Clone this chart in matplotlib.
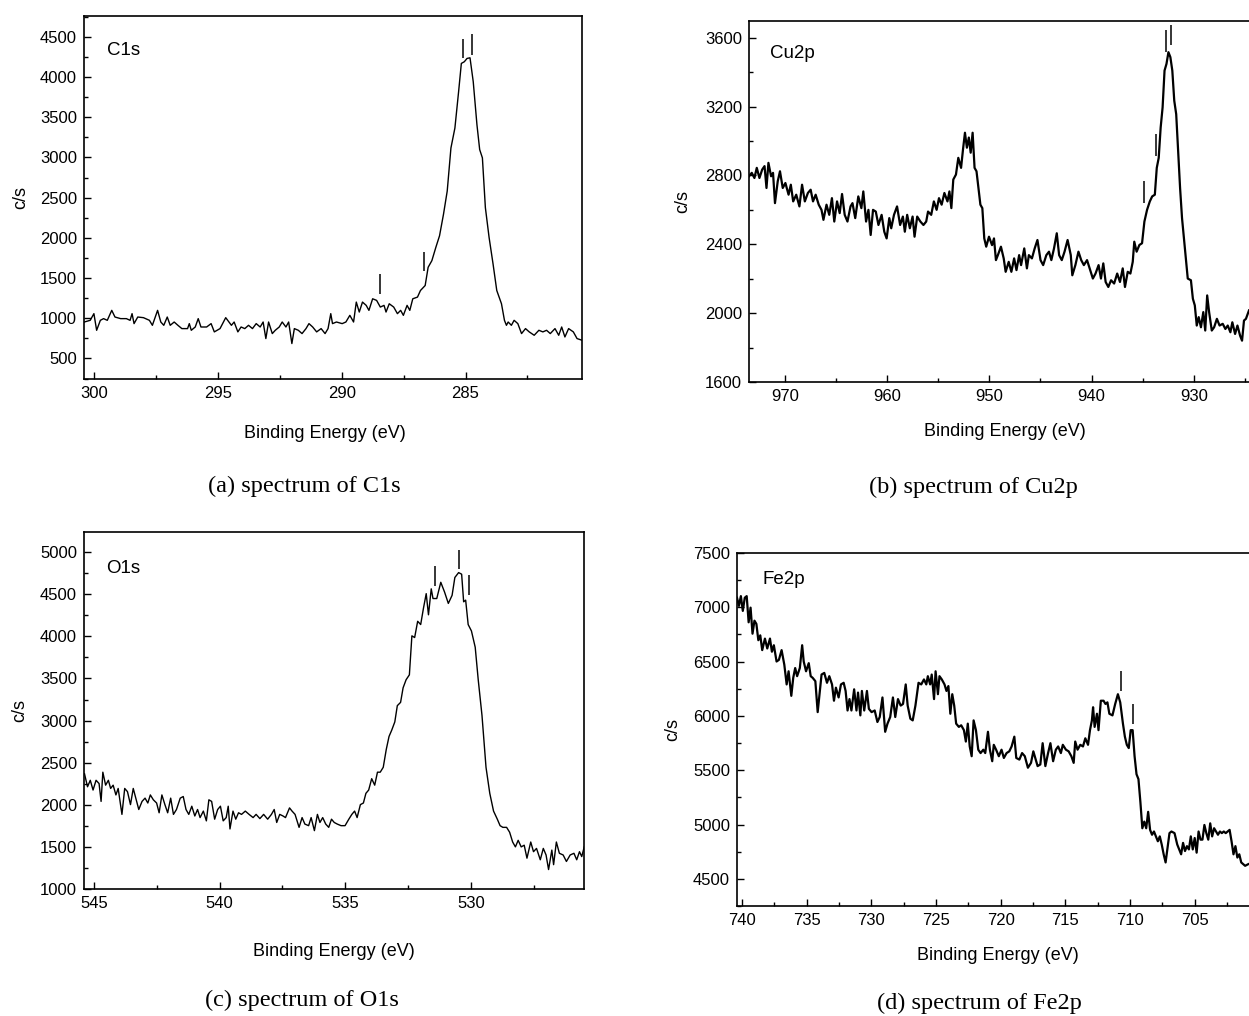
import numpy as np
import matplotlib
matplotlib.use("Agg")
import matplotlib.pyplot as plt
from matplotlib.ticker import MultipleLocator

plt.rcParams['font.family'] = ['Liberation Sans', 'DejaVu Sans']

# ---- C1s ----
c1s_e = [300.39, 300.15, 300.00, 299.89, 299.74, 299.61, 299.46, 299.28, 299.15, 298.92,
         298.69, 298.54, 298.46, 298.38, 298.23, 298.00, 297.76, 297.64, 297.43, 297.30,
         297.18, 297.04, 296.92, 296.76, 296.61, 296.45, 296.22, 296.15, 296.07, 295.91,
         295.79, 295.68, 295.45, 295.27, 295.14, 294.91, 294.68, 294.45, 294.34, 294.19,
         294.06, 293.91, 293.76, 293.60, 293.45, 293.29, 293.17, 293.06, 292.95, 292.80,
         292.68, 292.52, 292.40, 292.25, 292.14, 292.01, 291.91, 291.75, 291.60, 291.44,
         291.32, 291.17, 291.01, 290.83, 290.67, 290.55, 290.44, 290.37, 290.21, 289.98,
         289.83, 289.67, 289.52, 289.41, 289.29, 289.16, 289.01, 288.90, 288.75, 288.59,
         288.44, 288.29, 288.21, 288.08, 287.90, 287.75, 287.62, 287.51, 287.36, 287.25,
         287.13, 286.94, 286.82, 286.63, 286.51, 286.36, 286.20, 286.05, 285.89, 285.74,
         285.59, 285.43, 285.28, 285.17, 285.05, 284.94, 284.82, 284.69, 284.54, 284.43,
         284.32, 284.20, 284.05, 283.89, 283.74, 283.55, 283.43, 283.35, 283.28, 283.15,
         283.04, 282.89, 282.74, 282.58, 282.43, 282.23, 282.04, 281.88, 281.73, 281.58,
         281.39, 281.24, 281.12, 280.99, 280.84, 280.65, 280.50, 280.30]
c1s_cps = [953, 974, 1057, 850, 974, 995, 974, 1098, 1015, 995,
           995, 974, 1057, 933, 1015, 1007, 974, 912, 1098, 953,
           912, 1015, 912, 953, 912, 871, 871, 933, 850, 891,
           995, 891, 891, 933, 830, 871, 1007, 912, 953, 830,
           891, 871, 912, 871, 933, 891, 953, 747, 953, 809,
           850, 891, 953, 891, 953, 685, 871, 850, 809, 871,
           933, 891, 830, 871, 809, 871, 1057, 933, 953, 933,
           953, 1036, 953, 1201, 1077, 1201, 1160, 1098, 1242, 1222,
           1139, 1160, 1077, 1180, 1139, 1057, 1098, 1036, 1160, 1098,
           1242, 1263, 1345, 1407, 1634, 1716, 1881, 2026, 2294, 2582,
           3118, 3366, 3820, 4170, 4191, 4232, 4240, 3943, 3407, 3098,
           2995, 2376, 2005, 1675, 1345, 1180, 974, 912, 953, 912,
           974, 933, 809, 871, 830, 788, 850, 830, 850, 809,
           871, 788, 891, 767, 871, 830, 747, 726]
c1s_mark_e = [288.47, 286.66, 285.12, 284.72]
c1s_mark_lo = [1305, 1585, 4232, 4280]
c1s_mark_hi = [1552, 1820, 4480, 4540]

# ---- Cu2p ----
cu_e = [973.50, 973.23, 972.97, 972.74, 972.48, 972.21, 971.98, 971.79, 971.60, 971.34,
        971.15, 970.96, 970.69, 970.47, 970.20, 969.94, 969.63, 969.41, 969.18, 968.88,
        968.57, 968.31, 968.04, 967.74, 967.47, 967.24, 966.98, 966.68, 966.41, 966.22,
        965.92, 965.65, 965.39, 965.16, 964.89, 964.63, 964.40, 964.14, 963.87, 963.57,
        963.38, 963.11, 962.81, 962.51, 962.32, 962.05, 961.82, 961.60, 961.37, 961.10,
        960.84, 960.53, 960.27, 960.04, 959.78, 959.59, 959.32, 959.02, 958.72, 958.45,
        958.26, 958.03, 957.77, 957.50, 957.31, 957.05, 956.74, 956.44, 956.17, 955.99,
        955.68, 955.42, 955.15, 954.92, 954.66, 954.39, 954.09, 953.90, 953.71, 953.52,
        953.26, 953.03, 952.76, 952.57, 952.38, 952.19, 952.00, 951.82, 951.63, 951.44,
        951.25, 951.06, 950.87, 950.68, 950.49, 950.30, 950.03, 949.73, 949.54, 949.35,
        949.16, 948.86, 948.59, 948.40, 948.10, 947.84, 947.57, 947.34, 947.08, 946.89,
        946.58, 946.32, 946.13, 945.83, 945.56, 945.29, 944.99, 944.73, 944.42, 944.16,
        943.93, 943.67, 943.40, 943.17, 942.91, 942.64, 942.34, 942.03, 941.88, 941.58,
        941.28, 941.01, 940.75, 940.44, 940.18, 939.87, 939.61, 939.31, 939.08, 938.85,
        938.62, 938.36, 938.09, 937.79, 937.49, 937.22, 936.95, 936.73, 936.46, 936.20,
        935.97, 935.82, 935.59, 935.32, 935.06, 934.83, 934.57, 934.30, 934.07, 933.81,
        933.62, 933.43, 933.24, 933.05, 932.86, 932.67, 932.48, 932.29, 932.10, 931.91,
        931.72, 931.53, 931.34, 931.15, 930.96, 930.78, 930.59, 930.28, 930.09, 929.90,
        929.71, 929.52, 929.30, 929.07, 928.88, 928.69, 928.50, 928.24, 928.01, 927.74,
        927.48, 927.17, 926.91, 926.68, 926.42, 926.23, 925.96, 925.73, 925.47, 925.28,
        925.09, 924.90, 924.60]
cu_cps = [2795, 2815, 2785, 2844, 2785, 2834, 2854, 2727, 2873, 2795,
          2815, 2639, 2766, 2824, 2727, 2756, 2688, 2746, 2649, 2688,
          2620, 2746, 2649, 2698, 2717, 2649, 2688, 2630, 2600, 2542,
          2630, 2571, 2668, 2532, 2649, 2581, 2692, 2571, 2532, 2620,
          2639, 2552, 2678, 2610, 2707, 2532, 2600, 2454, 2600, 2590,
          2512, 2571, 2473, 2434, 2552, 2493, 2571, 2620, 2512, 2561,
          2473, 2571, 2493, 2561, 2444, 2561, 2532, 2512, 2532, 2590,
          2571, 2649, 2600, 2668, 2630, 2698, 2649, 2707, 2610, 2776,
          2805, 2902, 2844, 2951, 3048, 2961, 3020, 2932, 3048, 2844,
          2824, 2727, 2630, 2610, 2434, 2386, 2444, 2395, 2434, 2308,
          2337, 2386, 2318, 2240, 2298, 2240, 2318, 2250, 2337, 2279,
          2376, 2260, 2337, 2318, 2376, 2425, 2308, 2279, 2337, 2357,
          2308, 2376, 2464, 2337, 2308, 2357, 2425, 2337, 2220, 2279,
          2357, 2308, 2279, 2308, 2260, 2201, 2230, 2279, 2201, 2289,
          2181, 2152, 2191, 2172, 2230, 2181, 2260, 2152, 2240, 2230,
          2298, 2415, 2357, 2396, 2406, 2532, 2600, 2649, 2678, 2688,
          2844, 2902, 3078, 3195, 3409, 3448, 3516, 3487, 3409, 3234,
          3156, 2941, 2727, 2552, 2434, 2318, 2201, 2191, 2084, 2045,
          1928, 1977, 1918, 2006, 1899, 2103, 2006, 1899, 1918, 1967,
          1928, 1938, 1908, 1928, 1889, 1947, 1879, 1928, 1869, 1840,
          1957, 1967, 2016]
cu_mark_e = [934.83, 933.69, 932.67, 932.21]
cu_mark_lo = [2639, 2912, 3516, 3555]
cu_mark_hi = [2766, 3039, 3643, 3672]

# ---- O1s ----
o1s_e = [545.38, 545.26, 545.15, 545.04, 544.92, 544.80, 544.72, 544.65, 544.54, 544.43,
         544.34, 544.24, 544.13, 544.04, 543.89, 543.78, 543.67, 543.55, 543.44, 543.32,
         543.22, 543.09, 542.97, 542.86, 542.76, 542.64, 542.51, 542.41, 542.30, 542.18,
         542.07, 541.95, 541.84, 541.72, 541.57, 541.45, 541.34, 541.23, 541.11, 540.99,
         540.88, 540.78, 540.65, 540.53, 540.43, 540.32, 540.20, 540.08, 539.97, 539.86,
         539.74, 539.66, 539.59, 539.47, 539.36, 539.25, 539.13, 538.98, 538.83, 538.67,
         538.55, 538.40, 538.25, 538.09, 537.94, 537.83, 537.73, 537.61, 537.48, 537.38,
         537.22, 537.12, 537.00, 536.84, 536.72, 536.61, 536.46, 536.36, 536.23, 536.11,
         536.01, 535.90, 535.78, 535.66, 535.55, 535.44, 535.32, 535.17, 535.01, 534.86,
         534.74, 534.63, 534.53, 534.40, 534.28, 534.18, 534.07, 533.95, 533.83, 533.72,
         533.61, 533.49, 533.37, 533.26, 533.15, 533.03, 532.93, 532.80, 532.70, 532.58,
         532.45, 532.35, 532.24, 532.12, 532.00, 531.89, 531.78, 531.69, 531.58, 531.51,
         531.36, 531.20, 531.05, 530.90, 530.75, 530.64, 530.49, 530.37, 530.29, 530.21,
         530.11, 529.98, 529.83, 529.71, 529.56, 529.40, 529.25, 529.10, 528.95, 528.84,
         528.73, 528.58, 528.46, 528.34, 528.23, 528.12, 528.00, 527.88, 527.77, 527.62,
         527.51, 527.39, 527.24, 527.12, 527.01, 526.91, 526.78, 526.71, 526.60, 526.48,
         526.33, 526.20, 526.05, 525.90, 525.79, 525.68, 525.59, 525.49]
o1s_cps = [2368, 2214, 2291, 2175, 2291, 2252, 2040, 2387, 2233, 2291,
           2194, 2233, 2117, 2194, 1886, 2194, 2156, 2002, 2194, 2059,
           1944, 2040, 2079, 2021, 2117, 2059, 2021, 1905, 2117, 2002,
           1905, 2079, 1886, 1944, 2079, 2098, 1944, 1886, 1983, 1867,
           1944, 1848, 1925, 1809, 2059, 2040, 1829, 1944, 1983, 1809,
           1848, 1983, 1713, 1925, 1829, 1905, 1886, 1925, 1886, 1848,
           1886, 1836, 1886, 1829, 1886, 1944, 1790, 1886, 1867, 1848,
           1963, 1925, 1886, 1732, 1848, 1771, 1752, 1848, 1693, 1886,
           1790, 1848, 1771, 1732, 1829, 1790, 1771, 1752, 1752, 1829,
           1886, 1925, 1848, 2002, 2021, 2136, 2175, 2310, 2233, 2387,
           2387, 2445, 2657, 2811, 2888, 2984, 3177, 3216, 3389, 3485,
           3543, 4006, 3986, 4179, 4140, 4333, 4507, 4256, 4564, 4449,
           4449, 4642, 4526, 4391, 4487, 4699, 4757, 4738, 4410, 4430,
           4140, 4064, 3871, 3485, 3061, 2445, 2136, 1925, 1829, 1752,
           1732, 1732, 1674, 1558, 1500, 1578, 1500, 1520, 1366, 1558,
           1443, 1482, 1347, 1482, 1404, 1231, 1462, 1289, 1558, 1424,
           1404, 1327, 1404, 1424, 1347, 1443, 1385, 1500]
o1s_mark_e = [531.43, 530.49, 530.08]
o1s_mark_lo = [4603, 4796, 4495]
o1s_mark_hi = [4834, 5027, 4726]

# ---- Fe2p ----
fe_e = [740.40, 740.25, 740.10, 739.95, 739.80, 739.65, 739.50, 739.35, 739.20, 739.05,
        738.90, 738.75, 738.60, 738.45, 738.24, 738.06, 737.85, 737.70, 737.55, 737.34,
        737.16, 736.95, 736.74, 736.56, 736.41, 736.20, 736.05, 735.90, 735.75, 735.54,
        735.36, 735.24, 735.06, 734.85, 734.70, 734.55, 734.34, 734.16, 734.04, 733.86,
        733.65, 733.44, 733.26, 733.05, 732.90, 732.75, 732.54, 732.36, 732.15, 732.00,
        731.85, 731.70, 731.55, 731.34, 731.16, 731.04, 730.86, 730.74, 730.56, 730.35,
        730.20, 729.99, 729.75, 729.54, 729.36, 729.15, 728.94, 728.76, 728.55, 728.34,
        728.16, 727.95, 727.74, 727.56, 727.35, 727.20, 726.99, 726.81, 726.60, 726.36,
        726.15, 725.94, 725.76, 725.64, 725.46, 725.34, 725.16, 725.04, 724.86, 724.74,
        724.56, 724.35, 724.20, 724.05, 723.90, 723.75, 723.60, 723.45, 723.24, 723.06,
        722.85, 722.70, 722.55, 722.40, 722.25, 722.10, 721.92, 721.74, 721.56, 721.35,
        721.20, 720.99, 720.84, 720.66, 720.54, 720.36, 720.15, 719.94, 719.76, 719.55,
        719.34, 719.16, 718.95, 718.80, 718.56, 718.35, 718.14, 717.90, 717.66, 717.48,
        717.30, 717.15, 716.94, 716.76, 716.55, 716.34, 716.16, 715.95, 715.74, 715.56,
        715.35, 715.20, 714.96, 714.75, 714.54, 714.36, 714.24, 714.06, 713.85, 713.64,
        713.46, 713.25, 713.10, 712.95, 712.86, 712.74, 712.56, 712.44, 712.26, 712.05,
        711.90, 711.75, 711.60, 711.36, 711.15, 710.94, 710.76, 710.55, 710.40, 710.25,
        710.10, 709.95, 709.80, 709.65, 709.50, 709.35, 709.20, 709.05, 708.90, 708.75,
        708.60, 708.45, 708.30, 708.15, 708.00, 707.85, 707.70, 707.55, 707.40, 707.25,
        707.10, 706.95, 706.80, 706.56, 706.35, 706.20, 706.05, 705.90, 705.75, 705.60,
        705.45, 705.30, 705.15, 705.00, 704.85, 704.70, 704.55, 704.40, 704.25, 704.10,
        703.95, 703.80, 703.65, 703.50, 703.35, 703.20, 703.05, 702.90, 702.75, 702.60,
        702.45, 702.30, 702.15, 702.00, 701.85, 701.70, 701.55, 701.40, 701.25, 701.10,
        700.86]
fe_cps = [7088, 7013, 7103, 6967, 7088, 7103, 6862, 6997, 6757, 6877,
          6847, 6697, 6742, 6606, 6712, 6621, 6712, 6591, 6651, 6501,
          6516, 6606, 6471, 6290, 6411, 6185, 6351, 6441, 6366, 6441,
          6651, 6501, 6411, 6486, 6366, 6351, 6320, 6035, 6170, 6381,
          6396, 6305, 6366, 6290, 6140, 6260, 6170, 6290, 6305, 6230,
          6050, 6155, 6050, 6245, 6050, 6215, 6005, 6230, 6050, 6230,
          6065, 6035, 6050, 5944, 5990, 6170, 5854, 5929, 5990, 6170,
          5990, 6155, 6095, 6110, 6290, 6095, 5974, 5959, 6095, 6305,
          6290, 6336, 6290, 6366, 6290, 6381, 6155, 6411, 6200, 6366,
          6336, 6290, 6230, 6275, 6020, 6200, 6095, 5929, 5899, 5914,
          5869, 5764, 5929, 5719, 5629, 5959, 5869, 5689, 5658, 5689,
          5658, 5854, 5689, 5583, 5734, 5689, 5629, 5689, 5613, 5658,
          5674, 5719, 5809, 5613, 5598, 5658, 5629, 5523, 5568, 5674,
          5598, 5538, 5553, 5749, 5538, 5658, 5749, 5583, 5689, 5719,
          5658, 5734, 5689, 5674, 5629, 5568, 5764, 5689, 5734, 5719,
          5794, 5734, 5869, 5959, 6080, 5899, 6020, 5869, 6140, 6140,
          6110, 6125, 6020, 6005, 6110, 6200, 6125, 5929, 5809, 5734,
          5704, 5869, 5869, 5629, 5463, 5418, 5207, 4966, 5027, 4966,
          5117, 4951, 4906, 4936, 4891, 4846, 4891, 4816, 4726, 4651,
          4786, 4921, 4936, 4921, 4816, 4771, 4726, 4831, 4756, 4801,
          4771, 4891, 4771, 4876, 4741, 4936, 4861, 4861, 4996, 4921,
          4861, 5011, 4891, 4966, 4936, 4906, 4936, 4921, 4936, 4921,
          4936, 4951, 4846, 4726, 4801, 4696, 4726, 4651, 4635, 4620,
          4635]
fe_mark_e = [710.70, 709.74]
fe_mark_lo = [6230, 5929]
fe_mark_hi = [6411, 6110]

fig = plt.figure(figsize=(12.49, 10.16), dpi=100)
W, H = 1249.0, 1016.0

def mkax(l, t, r, b):
    return fig.add_axes([l / W, 1 - b / H, (r - l) / W, (b - t) / H])

panels = [
    dict(box=(84, 16, 582, 379), e=c1s_e, y=c1s_cps, me=c1s_mark_e, mlo=c1s_mark_lo, mhi=c1s_mark_hi,
         xlim=(300.4, 280.3), ylim=(244, 4760), xmaj=5, ymaj=500, name="C1s", lw=1.0,
         lab=(0.046, 0.906), xl=(0.484, -0.151), yl=-0.128, cap="(a) spectrum of C1s", capxy=(304, 486),
         right=True),
    dict(box=(749, 21, 1249, 382), e=cu_e, y=cu_cps, me=cu_mark_e, mlo=cu_mark_lo, mhi=cu_mark_hi,
         xlim=(973.5, 924.6), ylim=(1600, 3697), xmaj=10, ymaj=400, name="Cu2p", lw=1.6,
         lab=(0.042, 0.909), xl=(0.512, -0.136), yl=-0.132, cap="(b) spectrum of Cu2p", capxy=(973, 487),
         right=False),
    dict(box=(84, 532, 584, 889), e=o1s_e, y=o1s_cps, me=o1s_mark_e, mlo=o1s_mark_lo, mhi=o1s_mark_hi,
         xlim=(545.4, 525.5), ylim=(1000, 5239), xmaj=5, ymaj=500, name="O1s", lw=1.0,
         lab=(0.044, 0.899), xl=(0.5, -0.174), yl=-0.128, cap="(c) spectrum of O1s", capxy=(302, 1000),
         right=True),
    dict(box=(737, 553, 1249, 906), e=fe_e, y=fe_cps, me=fe_mark_e, mlo=fe_mark_lo, mhi=fe_mark_hi,
         xlim=(740.4, 700.8), ylim=(4250, 7500), xmaj=5, ymaj=500, name="Fe2p", lw=1.6,
         lab=(0.049, 0.926), xl=(0.51, -0.139), yl=-0.125, cap="(d) spectrum of Fe2p", capxy=(979, 1003),
         right=False),
]

for p in panels:
    ax = mkax(*p["box"])
    ax.plot(p["e"], p["y"], color="black", lw=p["lw"])
    ax.vlines(p["me"], p["mlo"], p["mhi"], color="black", lw=1.1)
    ax.set_xlim(*p["xlim"])
    ax.set_ylim(*p["ylim"])
    ax.xaxis.set_major_locator(MultipleLocator(p["xmaj"]))
    ax.xaxis.set_minor_locator(MultipleLocator(p["xmaj"] / 2))
    ax.yaxis.set_major_locator(MultipleLocator(p["ymaj"]))
    ax.yaxis.set_minor_locator(MultipleLocator(p["ymaj"] / 2))
    ax.tick_params(which="both", direction="in", labelsize=12, width=1.0)
    ax.tick_params(which="major", length=5, pad=5)
    ax.tick_params(which="minor", length=3)
    for s in ax.spines.values():
        s.set_linewidth(1.2)
    if not p["right"]:
        ax.spines["right"].set_visible(False)
    ax.text(p["lab"][0], p["lab"][1], p["name"], transform=ax.transAxes,
            ha="left", va="center", fontsize=13.5)
    ax.text(p["xl"][0], p["xl"][1], "Binding Energy (eV)", transform=ax.transAxes,
            ha="center", va="center", fontsize=13)
    ax.text(p["yl"], 0.5, "c/s", transform=ax.transAxes, rotation=90,
            ha="center", va="center", fontsize=13)
    fig.text(p["capxy"][0] / W, 1 - p["capxy"][1] / H, p["cap"], ha="center", va="center",
             fontsize=17.5, family=["Liberation Serif", "DejaVu Serif"])

fig.savefig("out.png", dpi=100)
